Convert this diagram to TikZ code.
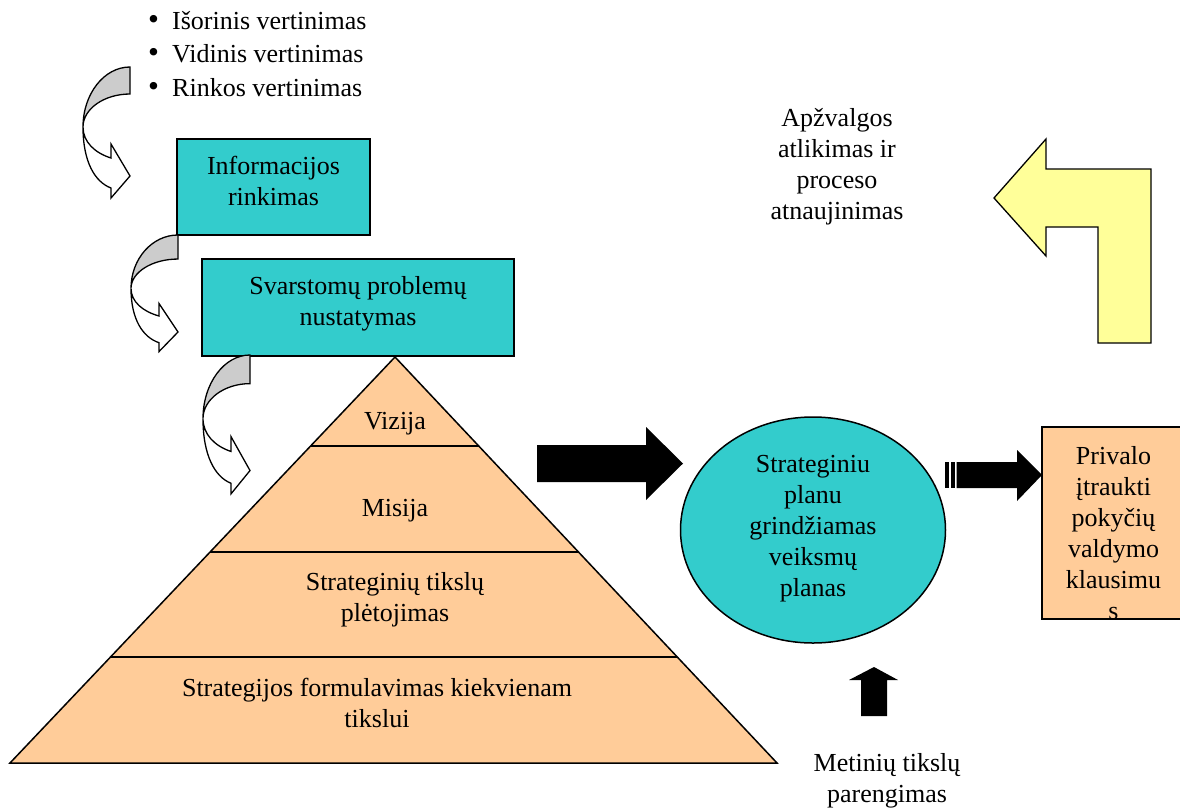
\documentclass[tikz,border=0pt]{standalone}
\usepackage{fontspec}
\setmainfont{Liberation Serif}
\usepackage{tikz}
\usetikzlibrary{shapes.geometric}
\definecolor{tealbox}{HTML}{33CCCC}
\definecolor{peach}{HTML}{FFCC99}
\definecolor{lemon}{HTML}{FFFF99}
\newcommand{\bigfont}{\fontsize{26}{31}\selectfont}

\begin{document}
\begin{tikzpicture}[x=1pt, y=-1pt,
    txt/.style={font=\bigfont, align=center, inner sep=0pt,
        execute at begin node=\strut, execute at end node=\strut},
    infobox/.style={draw, line width=1.5pt, fill=tealbox, font=\bigfont, align=center, inner sep=0pt,
        execute at begin node=\strut, execute at end node={\rule[-13pt]{0pt}{13pt}}},
    curl/.pic={
        \filldraw[fill=gray!40, line width=1.3pt] (0,0) .. controls (-26,0) and (-47,27) .. (-47,60)
            .. controls (-47,42) and (-26,27) .. (0,27) -- cycle;
        \filldraw[fill=white, line width=1.3pt] (-47,60) .. controls (-47,75) and (-35,86) .. (-19,91)
            -- (-19,77) -- (0,109) -- (-19,131) -- (-19,121)
            .. controls (-35,115) and (-47,95) .. (-47,60) -- cycle;
    }]
    \useasboundingbox (0,0) rectangle (1180,809);

    % Assessments
    \node[txt, anchor=base west] (outer) at (148,29) {\makebox[24pt][l]{\scalebox{1.2}{\textbullet}}Išorinis vertinimas};
    \node[txt, anchor=base west] (inner) at (148,62) {\makebox[24pt][l]{\scalebox{1.2}{\textbullet}}Vidinis vertinimas};
    \node[txt, anchor=base west] (market) at (148,96) {\makebox[24pt][l]{\scalebox{1.2}{\textbullet}}Rinkos vertinimas};

    % Boxes
    \node[infobox, minimum width=193pt, minimum height=96pt] (info) at (273.5,187) {Informacijos\\rinkimas};
    \node[infobox, minimum width=312pt, minimum height=97pt] (issues) at (358,307.5) {Svarstomų problemų\\nustatymas};

    % Pyramid
    \filldraw[fill=peach, line width=1.5pt] (395,357) -- (777,763) -- (10,763) -- cycle;
    \draw[line width=1.5pt] (310.6,446) -- (478.7,446);
    \draw[line width=1.5pt] (210.1,552) -- (578.5,552);
    \draw[line width=1.5pt] (110.5,657) -- (677.3,657);
    \node[txt] (vision) at (395,423) {Vizija};
    \node[txt] (mission) at (395,510) {Misija};
    \node[txt] (goals) at (395,602) {Strateginių tikslų\\plėtojimas};
    \node[txt] (formulate) at (377,707) {Strategijos formulavimas kiekvienam\\tikslui};

    % Curved arrows
    \pic at (130,67) {curl};
    \pic[yscale=0.89] at (178,235) {curl};
    \pic[yscale=1.06] at (250,355) {curl};

    % Arrow to the plan
    \fill (537,445) -- (646,445) -- (646,427) -- (683,463.5) -- (646,500) -- (646,482) -- (537,482) -- cycle;

    % Action plan
    \node[ellipse, draw, line width=1.5pt, fill=tealbox, minimum width=265pt, minimum height=226pt, inner sep=0pt] (plan) at (813,530) {};
    \node[txt] (plantext) at (813,531) {Strateginiu\\planu\\grindžiamas\\veiksmų\\planas};

    % Striped arrow
    \fill (945,462) rectangle (948.5,488);
    \fill (950.5,462) rectangle (954.5,488);
    \fill (956.5,462) -- (1017,462) -- (1017,450) -- (1042,475) -- (1017,501) -- (1017,488) -- (956.5,488) -- cycle;

    % Change management
    \node[draw, line width=1.5pt, fill=peach, minimum width=143pt, minimum height=192pt, inner sep=0pt] (must) at (1113.5,523) {};
    \begin{scope}
        \clip (must.south west) rectangle (must.north east);
        \node[txt] (musttext) at (1113.5,538) {Privalo\\įtraukti\\pokyčių\\valdymo\\klausimu\\s};
    \end{scope}

    % Annual goals
    \fill (861,716) -- (861,680) -- (849,680) -- (874,667) -- (898,680) -- (887,680) -- (887,716) -- cycle;
    \node[txt] (annual) at (887,783) {Metinių tikslų\\parengimas};

    % Review
    \filldraw[fill=lemon, line width=1.3pt] (994,198) -- (1046,139) -- (1046,169) -- (1151,169) -- (1151,343)
        -- (1098,343) -- (1098,227) -- (1046,227) -- (1046,256) -- cycle;
    \node[txt] (review) at (837,169) {Apžvalgos\\atlikimas ir\\proceso\\atnaujinimas};
\end{tikzpicture}
\end{document}
